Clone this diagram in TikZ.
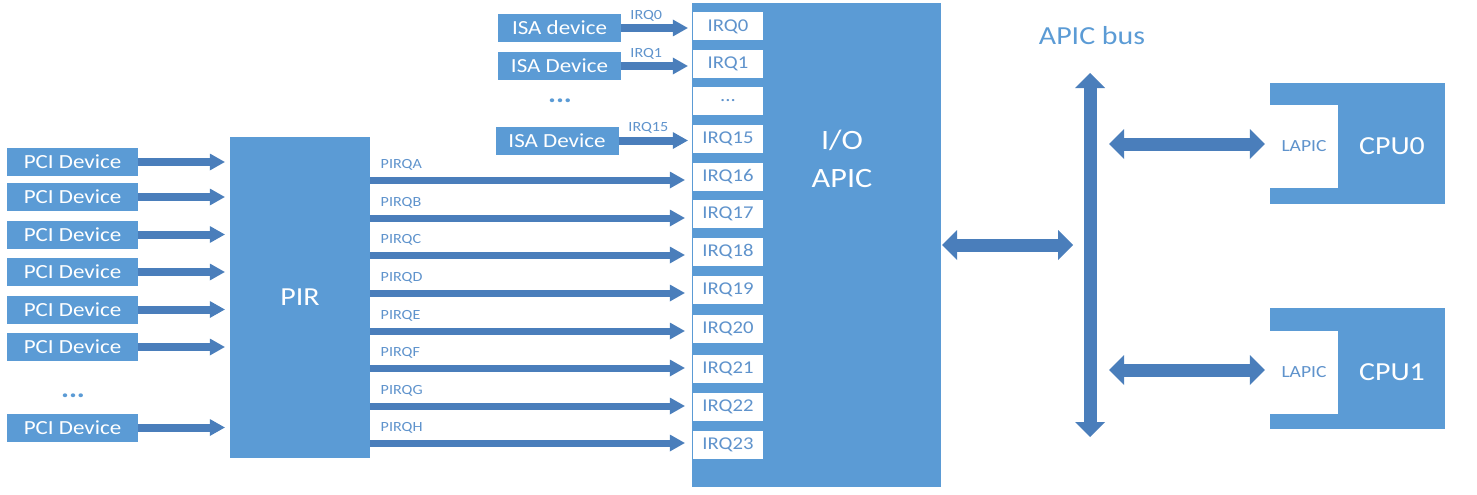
\documentclass[tikz,border=0pt]{standalone}
\usepackage{fontspec}
\setmainfont{Carlito}[FakeStretch=1.15]
\usetikzlibrary{arrows.meta}
\usetikzlibrary{positioning}
\definecolor{boxblue}{HTML}{5B9BD5}
\definecolor{arrowblue}{HTML}{4A7EBB}
\definecolor{textblue}{HTML}{5F93CC}
\tikzset{
  blk/.style={fill=boxblue,text=white,inner sep=0pt,font=\fontsize{20}{24}\selectfont},
  pcibox/.style={blk,minimum width=131pt,minimum height=28pt},
  isabox/.style={blk,minimum width=123pt,minimum height=28pt},
  irqslot/.style={fill=white,text=textblue,inner sep=0pt,minimum width=70pt,minimum height=28pt,font=\fontsize{18}{22}\selectfont},
  wire/.style={text=textblue,inner sep=1pt,font=\fontsize{14}{16}\selectfont},
  sig/.style={draw=arrowblue,line width=8pt,-{Triangle[width=17pt,length=15pt,line width'=0pt]}},
  busarrow/.style={draw=arrowblue,line width=13pt,{Triangle[width=30pt,length=15pt,line width'=0pt]}-{Triangle[width=30pt,length=15pt,line width'=0pt]}},
  dots/.style={text=boxblue,inner sep=0pt,font=\fontsize{26}{26}\selectfont\bfseries}
}
\begin{document}
\begin{tikzpicture}[x=1pt,y=-1pt]
\useasboundingbox (0,0) rectangle (1477,495);

% PCI devices and the router
\node[pcibox] (pci1) at (72.5,162) {PCI Device};
\node[pcibox] (pci2) at (72.5,197) {PCI Device};
\node[pcibox] (pci3) at (72.5,234.5) {PCI Device};
\node[pcibox] (pci4) at (72.5,272) {PCI Device};
\node[pcibox] (pci5) at (72.5,309.5) {PCI Device};
\node[pcibox] (pci6) at (72.5,347) {PCI Device};
\node[dots] (pcidots) at (73,396) {...};
\node[pcibox] (pci7) at (72.5,427.5) {PCI Device};
\node[blk,minimum width=140pt,minimum height=321pt,font=\fontsize{26}{30}\selectfont] (pir) at (300,297.5) {PIR};

\draw[sig,shorten >=5pt] (pci1) -- (pci1 -| pir.west);
\draw[sig,shorten >=5pt] (pci2) -- (pci2 -| pir.west);
\draw[sig,shorten >=5pt] (pci3) -- (pci3 -| pir.west);
\draw[sig,shorten >=5pt] (pci4) -- (pci4 -| pir.west);
\draw[sig,shorten >=5pt] (pci5) -- (pci5 -| pir.west);
\draw[sig,shorten >=5pt] (pci6) -- (pci6 -| pir.west);
\draw[sig,shorten >=5pt] (pci7) -- (pci7 -| pir.west);

% I/O APIC with its inputs
\node[blk,minimum width=249pt,minimum height=484pt] (apic) at (816.5,245) {};
\node[text=white,align=center,font=\fontsize{28}{38}\selectfont] (apictext) at (842,159) {I/O\\APIC};
\node[irqslot] (irq0) at (728,26.5) {IRQ0};
\node[irqslot] (irq1) at (728,64) {IRQ1};
\node[irqslot] (irqdots) at (728,101) {...};
\node[irqslot] (irq15) at (728,139) {IRQ15};
\node[irqslot] (irq16) at (728,177) {IRQ16};
\node[irqslot] (irq17) at (728,214) {IRQ17};
\node[irqslot] (irq18) at (728,252) {IRQ18};
\node[irqslot] (irq19) at (728,289.5) {IRQ19};
\node[irqslot] (irq20) at (728,329) {IRQ20};
\node[irqslot] (irq21) at (728,369) {IRQ21};
\node[irqslot] (irq22) at (728,407) {IRQ22};
\node[irqslot] (irq23) at (728,444.5) {IRQ23};

\node[isabox] (isa0) at (559.5,28) {ISA device};
\node[isabox] (isa1) at (559.5,66) {ISA Device};
\node[dots] (isadots) at (560,101) {...};
\node[isabox] (isa15) at (557,140.5) {ISA Device};

\draw[sig,shorten >=5pt] (isa0) -- (isa0 -| irq0.west) node[wire,pos=0.35,above=2pt] {IRQ0};
\draw[sig,shorten >=5pt] (isa1) -- (isa1 -| irq1.west) node[wire,pos=0.35,above=2pt] {IRQ1};
\draw[sig,shorten >=5pt] (isa15) -- (isa15 -| irq15.west) node[wire,pos=0.4,above=2pt] {IRQ15};

\draw[sig,line width=7pt,shorten >=8pt] (pir.east |- 0,180) -- (irq16.west |- 0,180) node[wire,pos=0,anchor=south west,xshift=6pt,yshift=5pt] {PIRQA};
\draw[sig,line width=7pt,shorten >=8pt] (pir.east |- 0,218) -- (irq17.west |- 0,218) node[wire,pos=0,anchor=south west,xshift=6pt,yshift=5pt] {PIRQB};
\draw[sig,line width=7pt,shorten >=8pt] (pir.east |- 0,255) -- (irq18.west |- 0,255) node[wire,pos=0,anchor=south west,xshift=6pt,yshift=5pt] {PIRQC};
\draw[sig,line width=7pt,shorten >=8pt] (pir.east |- 0,293) -- (irq19.west |- 0,293) node[wire,pos=0,anchor=south west,xshift=6pt,yshift=5pt] {PIRQD};
\draw[sig,line width=7pt,shorten >=8pt] (pir.east |- 0,331) -- (irq20.west |- 0,331) node[wire,pos=0,anchor=south west,xshift=6pt,yshift=5pt] {PIRQE};
\draw[sig,line width=7pt,shorten >=8pt] (pir.east |- 0,368) -- (irq21.west |- 0,368) node[wire,pos=0,anchor=south west,xshift=6pt,yshift=5pt] {PIRQF};
\draw[sig,line width=7pt,shorten >=8pt] (pir.east |- 0,406) -- (irq22.west |- 0,406) node[wire,pos=0,anchor=south west,xshift=6pt,yshift=5pt] {PIRQG};
\draw[sig,line width=7pt,shorten >=8pt] (pir.east |- 0,443) -- (irq23.west |- 0,443) node[wire,pos=0,anchor=south west,xshift=6pt,yshift=5pt] {PIRQH};

% APIC bus and the CPUs
\node[text=boxblue,font=\fontsize{26}{30}\selectfont] (buslabel) at (1092,36) {APIC bus};
\coordinate (bustop) at (1090,73);
\coordinate (busbot) at (1090,437);
\coordinate (busapic) at (1073,245);
\coordinate (buscpu0) at (1109,144);
\coordinate (buscpu1) at (1109,370);

\node[blk,minimum width=175pt,minimum height=121pt] (cpu0) at (1357.5,143.5) {};
\node[irqslot,minimum width=68pt,minimum height=83pt,font=\fontsize{17}{20}\selectfont] (lapic0) at (1304,146.5) {LAPIC};
\node[text=white,font=\fontsize{26}{30}\selectfont] (cpu0text) at (1392,146) {CPU0};
\node[blk,minimum width=175pt,minimum height=121pt] (cpu1) at (1357.5,368.5) {};
\node[irqslot,minimum width=68pt,minimum height=83pt,font=\fontsize{17}{20}\selectfont] (lapic1) at (1304,372) {LAPIC};
\node[text=white,font=\fontsize{26}{30}\selectfont] (cpu1text) at (1392,372) {CPU1};

\draw[busarrow] (bustop) -- (busbot);
\draw[busarrow,shorten <=1pt] (apic.east) -- (busapic);
\draw[busarrow,shorten >=5pt] (buscpu0) -- (buscpu0 -| lapic0.west);
\draw[busarrow,shorten >=5pt] (buscpu1) -- (buscpu1 -| lapic1.west);

\end{tikzpicture}
\end{document}
